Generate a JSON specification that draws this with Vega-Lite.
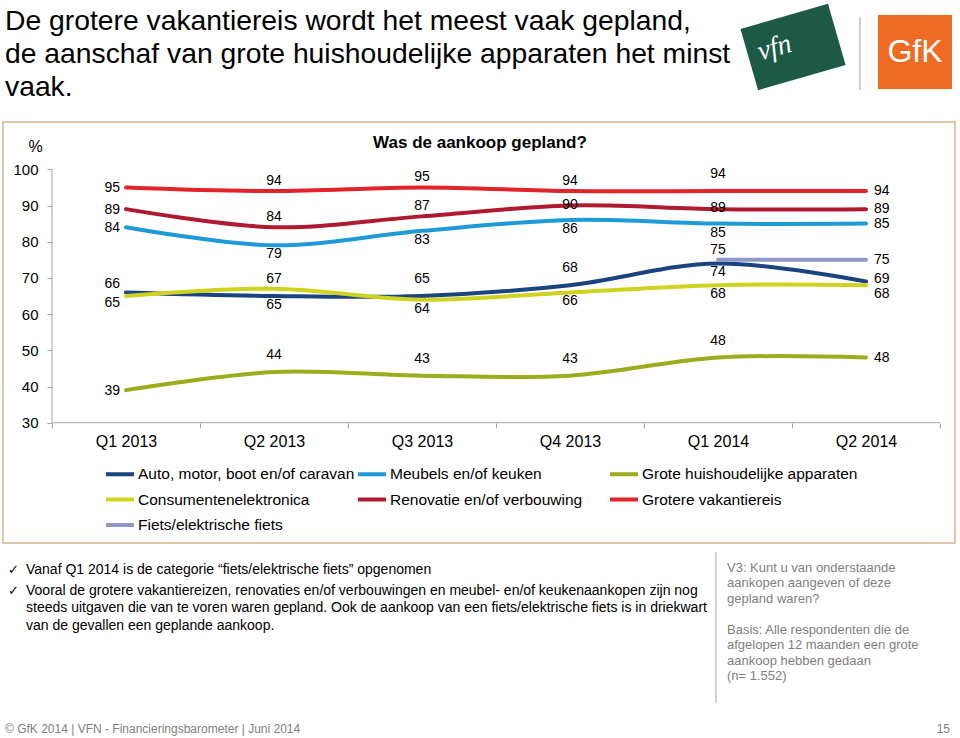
{
  "$schema": "https://vega.github.io/schema/vega-lite/v6.json",
  "width": 952,
  "height": 421,
  "autosize": {"type": "none"},
  "padding": {"left": 3, "top": 122, "right": 5, "bottom": 195},
  "background": "white",
  "config": {
    "font": "Liberation Sans",
    "view": {"stroke": "#dcb48c", "strokeWidth": 1.5},
    "text": {"font": "Liberation Sans", "color": "#000000"}
  },
  "datasets": {
    "lijnen": [
      {"kwartaal": "Q1 2013", "categorie": "Auto, motor, boot en/of caravan", "pct": 66},
      {"kwartaal": "Q2 2013", "categorie": "Auto, motor, boot en/of caravan", "pct": 65},
      {"kwartaal": "Q3 2013", "categorie": "Auto, motor, boot en/of caravan", "pct": 65},
      {"kwartaal": "Q4 2013", "categorie": "Auto, motor, boot en/of caravan", "pct": 68},
      {"kwartaal": "Q1 2014", "categorie": "Auto, motor, boot en/of caravan", "pct": 74},
      {"kwartaal": "Q2 2014", "categorie": "Auto, motor, boot en/of caravan", "pct": 69},
      {"kwartaal": "Q1 2013", "categorie": "Meubels en/of keuken", "pct": 84},
      {"kwartaal": "Q2 2013", "categorie": "Meubels en/of keuken", "pct": 79},
      {"kwartaal": "Q3 2013", "categorie": "Meubels en/of keuken", "pct": 83},
      {"kwartaal": "Q4 2013", "categorie": "Meubels en/of keuken", "pct": 86},
      {"kwartaal": "Q1 2014", "categorie": "Meubels en/of keuken", "pct": 85},
      {"kwartaal": "Q2 2014", "categorie": "Meubels en/of keuken", "pct": 85},
      {"kwartaal": "Q1 2013", "categorie": "Grote huishoudelijke apparaten", "pct": 39},
      {"kwartaal": "Q2 2013", "categorie": "Grote huishoudelijke apparaten", "pct": 44},
      {"kwartaal": "Q3 2013", "categorie": "Grote huishoudelijke apparaten", "pct": 43},
      {"kwartaal": "Q4 2013", "categorie": "Grote huishoudelijke apparaten", "pct": 43},
      {"kwartaal": "Q1 2014", "categorie": "Grote huishoudelijke apparaten", "pct": 48},
      {"kwartaal": "Q2 2014", "categorie": "Grote huishoudelijke apparaten", "pct": 48},
      {"kwartaal": "Q1 2013", "categorie": "Consumentenelektronica", "pct": 65},
      {"kwartaal": "Q2 2013", "categorie": "Consumentenelektronica", "pct": 67},
      {"kwartaal": "Q3 2013", "categorie": "Consumentenelektronica", "pct": 64},
      {"kwartaal": "Q4 2013", "categorie": "Consumentenelektronica", "pct": 66},
      {"kwartaal": "Q1 2014", "categorie": "Consumentenelektronica", "pct": 68},
      {"kwartaal": "Q2 2014", "categorie": "Consumentenelektronica", "pct": 68},
      {"kwartaal": "Q1 2013", "categorie": "Renovatie en/of verbouwing", "pct": 89},
      {"kwartaal": "Q2 2013", "categorie": "Renovatie en/of verbouwing", "pct": 84},
      {"kwartaal": "Q3 2013", "categorie": "Renovatie en/of verbouwing", "pct": 87},
      {"kwartaal": "Q4 2013", "categorie": "Renovatie en/of verbouwing", "pct": 90},
      {"kwartaal": "Q1 2014", "categorie": "Renovatie en/of verbouwing", "pct": 89},
      {"kwartaal": "Q2 2014", "categorie": "Renovatie en/of verbouwing", "pct": 89},
      {"kwartaal": "Q1 2013", "categorie": "Grotere vakantiereis", "pct": 95},
      {"kwartaal": "Q2 2013", "categorie": "Grotere vakantiereis", "pct": 94},
      {"kwartaal": "Q3 2013", "categorie": "Grotere vakantiereis", "pct": 95},
      {"kwartaal": "Q4 2013", "categorie": "Grotere vakantiereis", "pct": 94},
      {"kwartaal": "Q1 2014", "categorie": "Grotere vakantiereis", "pct": 94},
      {"kwartaal": "Q2 2014", "categorie": "Grotere vakantiereis", "pct": 94},
      {"kwartaal": "Q1 2014", "categorie": "Fiets/elektrische fiets", "pct": 75},
      {"kwartaal": "Q2 2014", "categorie": "Fiets/elektrische fiets", "pct": 75}
    ]
  },
  "layer": [
    {
      "data": {"name": "lijnen"},
      "mark": {"type": "line", "interpolate": "catmull-rom", "strokeWidth": 4, "strokeCap": "round"},
      "encoding": {
        "x": {
          "field": "kwartaal", "type": "ordinal", "bandPosition": 0.5,
          "scale": {"type": "band", "domain": ["Q1 2013", "Q2 2013", "Q3 2013", "Q4 2013", "Q1 2014", "Q2 2014"], "paddingInner": 0, "paddingOuter": 0.2162, "align": 0.7656},
          "axis": {"orient": "bottom", "offset": -120, "title": null, "domain": false, "tickBand": "extent", "tickSize": 5, "tickColor": "#a6a6a6", "labelFontSize": 16, "labelColor": "#000000", "labelPadding": 5, "labelAngle": 0, "grid": false}
        },
        "y": {
          "field": "pct", "type": "quantitative",
          "scale": {"domain": [-3.23, 113.07], "nice": false, "zero": false},
          "axis": {"offset": -49, "values": [30, 40, 50, 60, 70, 80, 90, 100], "domain": false, "grid": false, "tickSize": 5, "tickColor": "#a6a6a6", "labelFontSize": 15, "labelColor": "#000000", "labelPadding": 9, "title": "%", "titleAngle": 0, "titleX": -17, "titleY": 24, "titleAlign": "center", "titleBaseline": "middle", "titleFontSize": 16, "titleFontWeight": "normal", "titleColor": "#000000"}
        },
        "color": {
          "field": "categorie", "type": "nominal",
          "scale": {
            "domain": ["Auto, motor, boot en/of caravan", "Meubels en/of keuken", "Grote huishoudelijke apparaten", "Consumentenelektronica", "Renovatie en/of verbouwing", "Grotere vakantiereis", "Fiets/elektrische fiets"],
            "range": ["#1a4480", "#1e9ad6", "#9bad1c", "#cfd31f", "#b01a30", "#e2242a", "#8e98c8"]
          },
          "legend": {"orient": "none", "legendX": 101, "legendY": 336, "direction": "horizontal", "columns": 3, "title": null, "symbolType": "stroke", "symbolStrokeWidth": 4, "symbolSize": 784, "labelFontSize": 15.5, "labelColor": "#000000", "labelLimit": 300, "gridAlign": "all", "columnPadding": -5, "rowPadding": 0.5, "labelOffset": 2}
        }
      }
    },
    {
      "data": {"name": "lijnen"},
      "encoding": {
        "x": {"field": "kwartaal", "type": "ordinal", "bandPosition": 0.5},
        "y": {"field": "pct", "type": "quantitative"},
        "text": {"field": "pct", "type": "quantitative"}
      },
      "layer": [
        {"transform": [{"filter": "datum.kwartaal=='Q1 2013' && datum.categorie!='Auto, motor, boot en/of caravan' && datum.categorie!='Consumentenelektronica'"}],
         "mark": {"type": "text", "align": "right", "baseline": "middle", "dx": -6, "dy": 1, "fontSize": 14}},
        {"transform": [{"filter": "datum.kwartaal=='Q1 2013' && datum.categorie=='Auto, motor, boot en/of caravan'"}],
         "mark": {"type": "text", "align": "right", "baseline": "middle", "dx": -6, "dy": -8, "fontSize": 14}},
        {"transform": [{"filter": "datum.kwartaal=='Q1 2013' && datum.categorie=='Consumentenelektronica'"}],
         "mark": {"type": "text", "align": "right", "baseline": "middle", "dx": -6, "dy": 7, "fontSize": 14}},
        {"transform": [{"filter": "(datum.categorie=='Grotere vakantiereis' && indexof(['Q2 2013','Q3 2013','Q4 2013'], datum.kwartaal) >= 0) || (datum.categorie=='Renovatie en/of verbouwing' && indexof(['Q2 2013','Q3 2013'], datum.kwartaal) >= 0) || (datum.categorie=='Consumentenelektronica' && datum.kwartaal=='Q2 2013') || (datum.categorie=='Fiets/elektrische fiets' && datum.kwartaal=='Q1 2014')"}],
         "mark": {"type": "text", "align": "center", "baseline": "middle", "dy": -10, "fontSize": 14}},
        {"transform": [{"filter": "(datum.categorie=='Grote huishoudelijke apparaten' && indexof(['Q2 2013','Q3 2013','Q4 2013','Q1 2014'], datum.kwartaal) >= 0) || (datum.categorie=='Auto, motor, boot en/of caravan' && indexof(['Q3 2013','Q4 2013'], datum.kwartaal) >= 0) || (datum.categorie=='Grotere vakantiereis' && datum.kwartaal=='Q1 2014')"}],
         "mark": {"type": "text", "align": "center", "baseline": "middle", "dy": -17, "fontSize": 14}},
        {"transform": [{"filter": "(datum.categorie=='Meubels en/of keuken' && indexof(['Q2 2013','Q3 2013','Q4 2013','Q1 2014'], datum.kwartaal) >= 0) || (datum.categorie=='Auto, motor, boot en/of caravan' && indexof(['Q2 2013','Q1 2014'], datum.kwartaal) >= 0) || (datum.categorie=='Consumentenelektronica' && indexof(['Q3 2013','Q4 2013','Q1 2014'], datum.kwartaal) >= 0)"}],
         "mark": {"type": "text", "align": "center", "baseline": "middle", "dy": 9, "fontSize": 14}},
        {"transform": [{"filter": "datum.categorie=='Renovatie en/of verbouwing' && indexof(['Q4 2013','Q1 2014'], datum.kwartaal) >= 0"}],
         "mark": {"type": "text", "align": "center", "baseline": "middle", "dy": -1, "fontSize": 14}},
        {"transform": [{"filter": "datum.kwartaal=='Q2 2014' && datum.categorie!='Consumentenelektronica' && datum.categorie!='Auto, motor, boot en/of caravan'"}],
         "mark": {"type": "text", "align": "left", "baseline": "middle", "dx": 8, "dy": 0, "fontSize": 14}},
        {"transform": [{"filter": "datum.kwartaal=='Q2 2014' && datum.categorie=='Auto, motor, boot en/of caravan'"}],
         "mark": {"type": "text", "align": "left", "baseline": "middle", "dx": 8, "dy": -3, "fontSize": 14}},
        {"transform": [{"filter": "datum.kwartaal=='Q2 2014' && datum.categorie=='Consumentenelektronica'"}],
         "mark": {"type": "text", "align": "left", "baseline": "middle", "dx": 8, "dy": 9, "fontSize": 14}}
      ]
    },
    {
      "data": {"values": [{"as": "y"}]},
      "mark": {"type": "rule", "color": "#a6a6a6", "strokeWidth": 1},
      "encoding": {
        "x": {"datum": "Q1 2013", "type": "ordinal", "bandPosition": 0},
        "y": {"datum": 30, "type": "quantitative"},
        "y2": {"datum": 100}
      }
    },
    {
      "data": {"values": [{"as": "x"}]},
      "mark": {"type": "rule", "color": "#a6a6a6", "strokeWidth": 1},
      "encoding": {
        "x": {"datum": "Q1 2013", "type": "ordinal", "bandPosition": 0},
        "x2": {"datum": "Q2 2014", "bandPosition": 1},
        "y": {"datum": 30, "type": "quantitative"}
      }
    },
    {
      "data": {"values": [{"tekst": "Was de aankoop gepland?"}]},
      "mark": {"type": "text", "fontSize": 17, "fontWeight": "bold", "align": "center", "baseline": "middle", "dx": -16},
      "encoding": {
        "x": {"datum": "Q3 2013", "type": "ordinal", "bandPosition": 1},
        "y": {"datum": 107.27, "type": "quantitative"},
        "text": {"field": "tekst"}
      }
    },
    {
      "data": {"values": [{"tekst": "titel"}]},
      "mark": {"type": "text", "fontSize": 28.3, "align": "left", "baseline": "alphabetic", "dx": -47, "lineHeight": 33,
        "text": ["De grotere vakantiereis wordt het meest vaak gepland,", "de aanschaf van grote huishoudelijke apparaten het minst", "vaak."]},
      "encoding": {
        "x": {"datum": "Q1 2013", "type": "ordinal", "bandPosition": 0},
        "y": {"datum": 138.48, "type": "quantitative"}
      }
    },
    {
      "data": {"values": [{"tekst": "✓"}]},
      "mark": {"type": "text", "font": "DejaVu Sans", "fontSize": 13, "align": "left", "baseline": "alphabetic", "dx": -44, "lineHeight": 21, "text": ["✓", "✓"]},
      "encoding": {
        "x": {"datum": "Q1 2013", "type": "ordinal", "bandPosition": 0},
        "y": {"datum": -11.79, "type": "quantitative"}
      }
    },
    {
      "data": {"values": [{"tekst": "Vanaf Q1 2014 is de categorie “fiets/elektrische fiets” opgenomen"}]},
      "mark": {"type": "text", "fontSize": 14, "align": "left", "baseline": "alphabetic", "dx": -26},
      "encoding": {
        "x": {"datum": "Q1 2013", "type": "ordinal", "bandPosition": 0},
        "y": {"datum": -11.79, "type": "quantitative"},
        "text": {"field": "tekst"}
      }
    },
    {
      "data": {"values": [{"tekst": "Vooral"}]},
      "mark": {"type": "text", "fontSize": 14, "align": "left", "baseline": "alphabetic", "dx": -26, "lineHeight": 17.5,
        "text": ["Vooral de grotere vakantiereizen, renovaties en/of verbouwingen en meubel- en/of keukenaankopen zijn nog", "steeds uitgaven die van te voren waren gepland. Ook de aankoop van een fiets/elektrische fiets is in driekwart", "van de gevallen een geplande aankoop."]},
      "encoding": {
        "x": {"datum": "Q1 2013", "type": "ordinal", "bandPosition": 0},
        "y": {"datum": -17.59, "type": "quantitative"}
      }
    },
    {
      "data": {"values": [{"tekst": "V3"}]},
      "mark": {"type": "text", "fontSize": 13, "color": "#7f7f7f", "align": "left", "baseline": "alphabetic", "dx": 83, "lineHeight": 15.3,
        "text": ["V3: Kunt u van onderstaande", "aankopen aangeven of deze", "gepland waren?"]},
      "encoding": {
        "x": {"datum": "Q1 2014", "type": "ordinal", "bandPosition": 0},
        "y": {"datum": -11.24, "type": "quantitative"}
      }
    },
    {
      "data": {"values": [{"tekst": "Basis"}]},
      "mark": {"type": "text", "fontSize": 13, "color": "#7f7f7f", "align": "left", "baseline": "alphabetic", "dx": 83, "lineHeight": 15.3,
        "text": ["Basis: Alle respondenten die de", "afgelopen 12 maanden een grote", "aankoop hebben gedaan", "(n= 1.552)"]},
      "encoding": {
        "x": {"datum": "Q1 2014", "type": "ordinal", "bandPosition": 0},
        "y": {"datum": -28.37, "type": "quantitative"}
      }
    },
    {
      "data": {"values": [{"as": "scheiding"}]},
      "mark": {"type": "rule", "color": "#a6a6a6", "strokeWidth": 1},
      "encoding": {
        "x": {"datum": "Q1 2014", "type": "ordinal", "bandPosition": 0.486},
        "y": {"datum": -5.71, "type": "quantitative"},
        "y2": {"datum": -47.43}
      }
    },
    {
      "data": {"values": [{"tekst": "© GfK 2014 | VFN - Financieringsbarometer | Juni 2014"}]},
      "mark": {"type": "text", "fontSize": 12, "color": "#7f7f7f", "align": "left", "baseline": "alphabetic", "dx": -47},
      "encoding": {
        "x": {"datum": "Q1 2013", "type": "ordinal", "bandPosition": 0},
        "y": {"datum": -55.71, "type": "quantitative"},
        "text": {"field": "tekst"}
      }
    },
    {
      "data": {"values": [{"tekst": "15"}]},
      "mark": {"type": "text", "fontSize": 12, "color": "#7f7f7f", "align": "right", "baseline": "alphabetic", "dx": 10},
      "encoding": {
        "x": {"datum": "Q2 2014", "type": "ordinal", "bandPosition": 1},
        "y": {"datum": -55.71, "type": "quantitative"},
        "text": {"field": "tekst"}
      }
    },
    {
      "data": {"values": [{"logo": "vfn"}]},
      "layer": [
        {"mark": {"type": "point", "shape": "M-1,-0.7H1V0.7H-1Z", "size": 8281, "angle": -16, "filled": true, "color": "#1d5a45", "opacity": 1}},
        {"mark": {"type": "text", "font": "Liberation Serif", "fontStyle": "italic", "fontSize": 28, "color": "#ffffff", "angle": -16, "dx": -18, "dy": -4, "baseline": "middle", "align": "center"},
         "encoding": {"text": {"field": "logo"}}}
      ],
      "encoding": {
        "x": {"datum": "Q2 2014", "type": "ordinal", "bandPosition": 0.007},
        "y": {"datum": 133.79, "type": "quantitative"}
      }
    },
    {
      "data": {"values": [{"logo": "GfK"}]},
      "layer": [
        {"mark": {"type": "point", "shape": "square", "size": 5476, "angle": 0, "filled": true, "color": "#ef6a23", "opacity": 1}},
        {"mark": {"type": "text", "fontSize": 32, "color": "#ffffff", "baseline": "middle", "align": "center"},
         "encoding": {"text": {"field": "logo"}}}
      ],
      "encoding": {
        "x": {"datum": "Q2 2014", "type": "ordinal", "bandPosition": 0.831},
        "y": {"datum": 132.41, "type": "quantitative"}
      }
    },
    {
      "data": {"values": [{"as": "logoscheiding"}]},
      "mark": {"type": "rule", "color": "#bfbfbf", "strokeWidth": 1.5},
      "encoding": {
        "x": {"datum": "Q2 2014", "type": "ordinal", "bandPosition": 0.459},
        "y": {"datum": 142.08, "type": "quantitative"},
        "y2": {"datum": 121.91}
      }
    }
  ]
}
